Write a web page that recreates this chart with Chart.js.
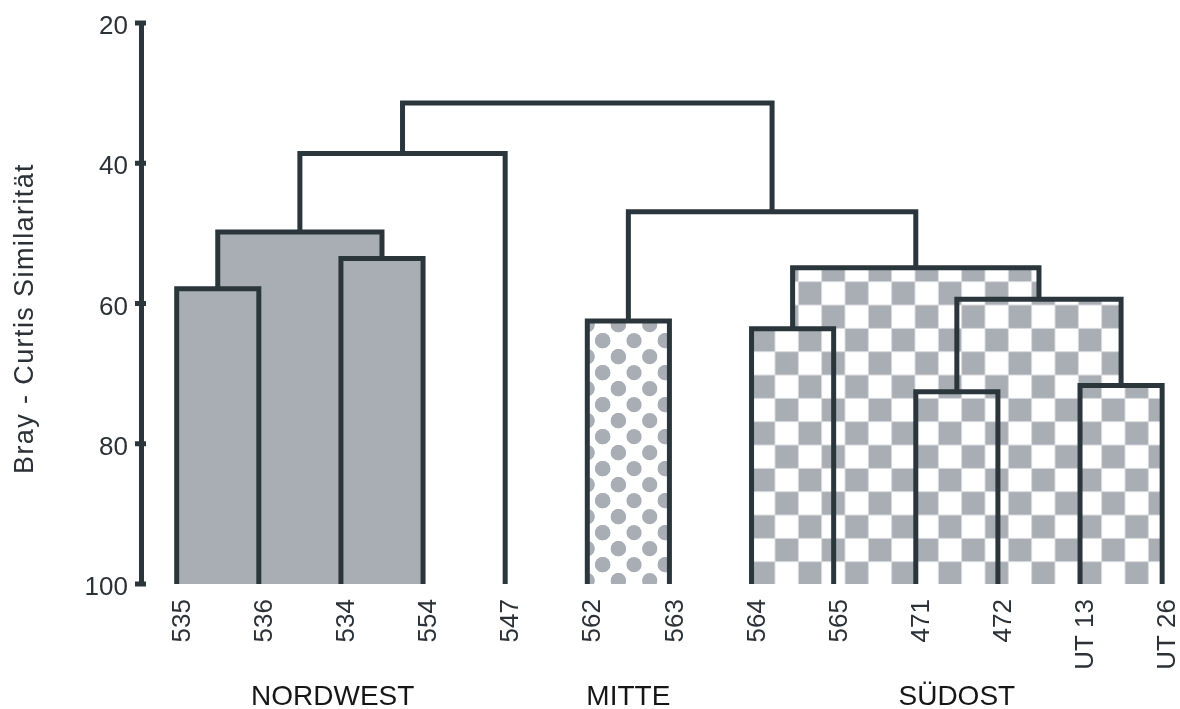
<!DOCTYPE html>
<html lang="de">
<head>
<meta charset="utf-8">
<title>Bray-Curtis Dendrogramm</title>
<script src="https://cdn.jsdelivr.net/npm/chart.js@4/dist/chart.umd.min.js"></script>
<style>
  html, body { margin: 0; padding: 0; background: #ffffff; }
  canvas { display: block; }
</style>
</head>
<body>
<canvas id="dendro" width="1180" height="709"></canvas>
<script>
// Stationen (Blätter des Dendrogramms), von links nach rechts
const leaves = ['535', '536', '534', '554', '547', '562', '563', '564', '565', '471', '472', 'UT 13', 'UT 26'];

// Fusionsschritte: Knoten 0–12 sind die Stationen, jeder Schritt erzeugt den nächsten Knoten (13, 14, ...)
const mergeLeft   = [0, 2, 13, 15, 5, 7, 9, 11, 19, 18, 17, 16];
const mergeRight  = [1, 3, 14, 4, 6, 8, 10, 12, 20, 21, 22, 23];
const mergeHeight = [57.9, 53.6, 49.8, 38.6, 62.5, 63.6, 72.6, 71.7, 59.4, 54.9, 46.9, 31.4];

// Regionen und die Fusionsschritte, deren Flächen sie einnehmen
const regionNames  = ['NORDWEST', 'MITTE', 'SÜDOST'];
const regionMerges = [[0, 1, 2], [4], [5, 6, 7, 8, 9]];

// Achsenbeschriftung
const yTicks = [20, 40, 60, 80, 100];
const yTitle = 'Bray - Curtis Similarität';

// ---- Darstellung ----
const LINE = '#2b363c';
const GRAY = '#a9adb4';
const TEXT = '#2b3136';
const FONT = "'Liberation Sans', Arial, Helvetica, sans-serif";
const regionLabelAt = [1.9, 5.5, 9.5];   // Lage der Regionsnamen in Stationseinheiten

Chart.defaults.font.family = FONT;

// Schachbrettmuster (Südost)
function checkerPattern() {
  const size = 140, cell = size / 6, ox = 5, oy = 1.7;
  const c = document.createElement('canvas');
  c.width = size; c.height = size;
  const g = c.getContext('2d');
  g.fillStyle = '#ffffff';
  g.fillRect(0, 0, size, size);
  g.fillStyle = GRAY;
  for (let r = -1; r <= 6; r++) {
    for (let k = -1; k <= 6; k++) {
      if (((r + k) % 2 + 2) % 2 === 0) g.fillRect(ox + k * cell, oy + r * cell, cell, cell);
    }
  }
  g.fillStyle = '#d9dbde';
  for (let k = -1; k <= 6; k++) {
    g.fillRect(ox + k * cell - 0.5, 0, 1, size);
    g.fillRect(0, oy + k * cell - 0.5, size, 1);
  }
  return g.createPattern(c, 'repeat');
}

// Punktmuster (Mitte)
function dotPattern() {
  const w = 94, h = 32, dx = w / 3, rad = 7.6;
  const c = document.createElement('canvas');
  c.width = w; c.height = h;
  const g = c.getContext('2d');
  g.fillStyle = '#ffffff';
  g.fillRect(0, 0, w, h);
  g.fillStyle = GRAY;
  const centers = [];
  for (let k = -1; k <= 3; k++) {
    centers.push([38.7 + k * dx, 20.7]);
    centers.push([38.7 + dx / 2 + k * dx, 4.7]);
  }
  for (const [cx, cy] of centers) {
    for (const sx of [-w, 0, w]) for (const sy of [-h, 0, h]) {
      g.beginPath();
      g.arc(cx + sx, cy + sy, rad, 0, Math.PI * 2);
      g.fill();
    }
  }
  return g.createPattern(c, 'repeat');
}

const regionFill = [GRAY, dotPattern(), checkerPattern()];

// Lage und Höhe aller Knoten
const nodeX = leaves.map((_, i) => i);
const nodeH = leaves.map(() => 100);
mergeLeft.forEach((l, k) => {
  const r = mergeRight[k];
  nodeX.push((nodeX[l] + nodeX[r]) / 2);
  nodeH.push(mergeHeight[k]);
});

const datasets = [];

// Flächen der Regionen
regionMerges.forEach((merges, r) => {
  merges.forEach(k => {
    const xl = nodeX[mergeLeft[k]], xr = nodeX[mergeRight[k]], h = mergeHeight[k];
    datasets.push({
      data: [{ x: xl, y: 100 }, { x: xl, y: h }, { x: xr, y: h }, { x: xr, y: 100 }],
      backgroundColor: regionFill[r],
      borderColor: 'rgba(0,0,0,0)',
      borderWidth: 0,
      fill: { value: 100 },
      pointRadius: 0,
      order: 2
    });
  });
});

// Verbindungslinien (Klammern) des Dendrogramms
mergeLeft.forEach((l, k) => {
  const r = mergeRight[k];
  datasets.push({
    data: [
      { x: nodeX[l], y: nodeH[l] },
      { x: nodeX[l], y: mergeHeight[k] },
      { x: nodeX[r], y: mergeHeight[k] },
      { x: nodeX[r], y: nodeH[r] }
    ],
    borderColor: LINE,
    borderWidth: 5,
    borderJoinStyle: 'miter',
    borderCapStyle: 'butt',
    fill: false,
    pointRadius: 0,
    order: 1
  });
});

// Achsenstriche, Achsentitel und Regionsnamen
const annotations = {
  id: 'annotations',
  afterDraw(chart) {
    const { ctx, chartArea, scales: { x, y } } = chart;
    ctx.save();
    ctx.fillStyle = LINE;
    yTicks.forEach(v => {
      const py = y.getPixelForValue(v);
      ctx.fillRect(chartArea.left - 6, py - 2.5, 11, 5);
    });

    ctx.fillStyle = TEXT;
    ctx.font = `27px ${FONT}`;
    ctx.textAlign = 'center';
    ctx.textBaseline = 'alphabetic';
    ctx.save();
    ctx.translate(33, (chartArea.top + chartArea.bottom) / 2 + 15);
    ctx.rotate(-Math.PI / 2);
    if ('letterSpacing' in ctx) ctx.letterSpacing = '1.4px';
    ctx.fillText(yTitle, 0, 0);
    ctx.restore();

    ctx.fillStyle = '#161616';
    ctx.font = `28px ${FONT}`;
    regionNames.forEach((name, r) => {
      ctx.fillText(name, x.getPixelForValue(regionLabelAt[r]), 705);
    });
    ctx.restore();
  }
};

new Chart(document.getElementById('dendro'), {
  type: 'line',
  data: { datasets },
  options: {
    responsive: false,
    animation: false,
    devicePixelRatio: 1,
    layout: { padding: { top: 23, right: 8, bottom: 0, left: 0 } },
    plugins: { legend: { display: false }, tooltip: { enabled: false } },
    elements: { line: { tension: 0 } },
    scales: {
      x: {
        type: 'linear',
        min: -0.4347,
        max: 12.12,
        afterBuildTicks: s => { s.ticks = leaves.map((_, i) => ({ value: i })); },
        afterFit: s => { s.height = 125; s.paddingLeft = 0; s.paddingRight = 0; },
        grid: { display: false, drawTicks: false },
        border: { display: false },
        ticks: {
          autoSkip: false,
          minRotation: 90,
          maxRotation: 90,
          padding: 15,
          labelOffset: 6,
          color: TEXT,
          font: { size: 26 },
          callback: v => leaves[v] ?? ''
        }
      },
      y: {
        type: 'linear',
        reverse: true,
        min: 20,
        max: 100,
        afterBuildTicks: s => { s.ticks = yTicks.map(v => ({ value: v })); },
        afterFit: s => { s.width = 141; s.paddingTop = 0; s.paddingBottom = 0; },
        grid: { display: false, drawTicks: false },
        border: { display: true, width: 5, color: LINE },
        ticks: {
          padding: 13,
          labelOffset: 4,
          color: TEXT,
          font: { size: 26 }
        }
      }
    }
  },
  plugins: [annotations]
});
</script>
</body>
</html>
